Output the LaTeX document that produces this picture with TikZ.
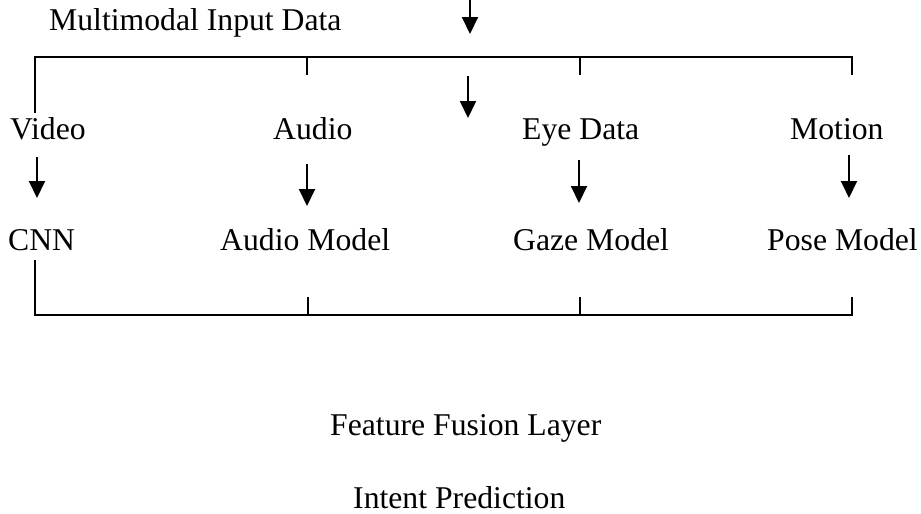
\documentclass[tikz,border=0pt]{standalone}
\usepackage{fontspec}
\setmainfont{Liberation Serif}
\usetikzlibrary{arrows.meta}
\begin{document}
\begin{tikzpicture}[x=1pt,y=-1pt,
  label/.style={anchor=base west,inner sep=0pt,font=\fontsize{31.7}{38}\selectfont},
  link/.style={line width=2pt},
  flow/.style={line width=2pt,-{Triangle[length=17pt,width=16pt]}}]
\useasboundingbox (0,0) rectangle (921,514);

% text labels
\node[label] (mid)    at (49,30)  {Multimodal Input Data};
\node[label] (video)  at (10,139) {Video};
\node[label] (audio)  at (273,139) {Audio};
\node[label] (eye)    at (522,139) {Eye Data};
\node[label] (motion) at (790,139) {Motion};
\node[label] (cnn)    at (8,250)  {CNN};
\node[label] (am)     at (220,250) {Audio Model};
\node[label] (gm)     at (513,250) {Gaze Model};
\node[label] (pm)     at (767,250) {Pose Model};
\node[label] (ffl)    at (330,435) {Feature Fusion Layer};
\node[label] (ip)     at (353,508) {Intent Prediction};

% arrow end points
\coordinate (inA) at (470,0);   \coordinate (inB) at (470,34);
\coordinate (mdA) at (468,76);  \coordinate (mdB) at (468,118);
\coordinate (vA) at (37,157);   \coordinate (vB) at (37,198);
\coordinate (aA) at (307,164);  \coordinate (aB) at (307,206);
\coordinate (eA) at (579,160);  \coordinate (eB) at (579,203);
\coordinate (mA) at (849,155);  \coordinate (mB) at (849,198);

% upper split bracket
\coordinate (t1) at (35,57);  \coordinate (t1d) at (35,113);
\coordinate (t2) at (307,57); \coordinate (t2d) at (307,75);
\coordinate (t3) at (580,57); \coordinate (t3d) at (580,75);
\coordinate (t4) at (852,57); \coordinate (t4d) at (852,75);

% lower merge bracket
\coordinate (b1u) at (35,260);  \coordinate (b1) at (35,315);
\coordinate (b2u) at (308,297); \coordinate (b2) at (308,315);
\coordinate (b3u) at (580,297); \coordinate (b3) at (580,315);
\coordinate (b4u) at (852,297); \coordinate (b4) at (852,315);

\draw[flow] (inA) -- (inB);
\draw[flow] (mdA) -- (mdB);
\draw[flow] (vA) -- (vB);
\draw[flow] (aA) -- (aB);
\draw[flow] (eA) -- (eB);
\draw[flow] (mA) -- (mB);

\draw[link] (t1d) -- (t1) -- (t4) -- (t4d);
\draw[link] (t2) -- (t2d);
\draw[link] (t3) -- (t3d);

\draw[link] (b1u) -- (b1) -- (b4) -- (b4u);
\draw[link] (b2) -- (b2u);
\draw[link] (b3) -- (b3u);
\end{tikzpicture}
\end{document}
